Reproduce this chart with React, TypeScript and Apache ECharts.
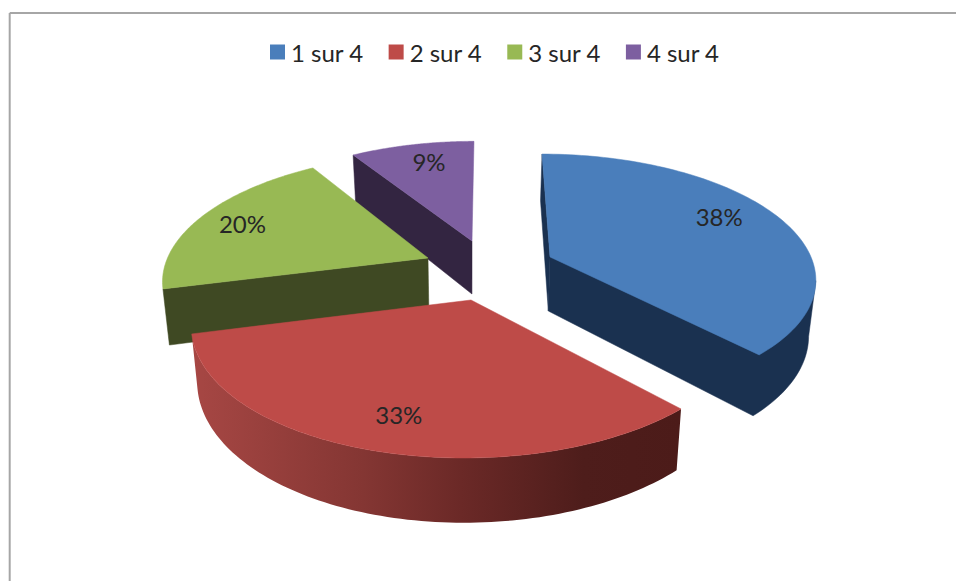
import React, { useEffect, useRef } from "react";
import * as echarts from "echarts";

const categories = ["1 sur 4", "2 sur 4", "3 sur 4", "4 sur 4"];
const values = [38, 33, 20, 9];
const labels = ["38%", "33%", "20%", "9%"];
const topColors = ["#4a7ebb", "#be4b48", "#98b954", "#7d5fa0"];
const wallColors = ["#1a3150", "#4c1b19", "#3f4923", "#332541"];

// Perspective fit of each exploded slice: apex, radii, skew, foreshortening, thickness
const geometry = [
  { ax: 550, ay: 257, rx: 261, ry: 119, sx: 9.2, k: 0.156, d: 54, labelR: 0.77, labelShift: -4.1, labelDy: -3 },
  { ax: 471, ay: 300, rx: 274.3, ry: 130.5, sx: -6, k: 0.174, d: 53.5, labelR: 0.8, labelShift: -0.9, labelDy: -2 },
  { ax: 428, ay: 258, rx: 260.5, ry: 120, sx: -12, k: 0.148, d: 54, labelR: 0.815, labelShift: 0, labelDy: 0 },
  { ax: 472, ay: 241, rx: 255.5, ry: 115.6, sx: -2.3, k: 0.16, d: 53, labelR: 0.78, labelShift: 1.7, labelDy: -2 },
];
const drawOrder = [3, 2, 0, 1];
const SHRINK_X = 0.979;
const CENTER_X = 470;
const FONT = "Lato, 'Noto Sans', sans-serif";
const TEXT = "#262626";

const total = values.reduce((a, b) => a + b, 0);

function sliceAngles(i: number) {
  let start = 0;
  for (let j = 0; j < i; j++) start += values[j];
  return [(start / total) * 360, ((start + values[i]) / total) * 360];
}

function top(i: number, deg: number, r = 1): [number, number] {
  const g = geometry[i];
  const t = (deg * Math.PI) / 180;
  const u = Math.sin(t) * r;
  const v = -Math.cos(t) * r;
  const w = 1 - g.k * v;
  return [g.ax + (g.rx * u + g.sx * v) / w, g.ay + (g.ry * v) / w];
}

function bottom(i: number, deg: number, r = 1): [number, number] {
  const g = geometry[i];
  const t = (deg * Math.PI) / 180;
  const v = -Math.cos(t) * r;
  const p = top(i, deg, r);
  return [CENTER_X + (p[0] - CENTER_X) * SHRINK_X, p[1] + g.d / (1 - g.k * v)];
}

function argMaxX(points: [number, number][]) {
  let best = 0;
  points.forEach((p, idx) => {
    if (p[0] > points[best][0]) best = idx;
  });
  return best;
}

// Screen-space winding of a polygon: positive when clockwise on screen
function winding(points: [number, number][]) {
  let area = 0;
  points.forEach((p, idx) => {
    const q = points[(idx + 1) % points.length];
    area += p[0] * q[1] - q[0] * p[1];
  });
  return area;
}

function renderSlice(params: any) {
  const i = params.seriesIndex;
  const [a0, a1] = sliceAngles(i);
  const n = 96;
  const arcTop: [number, number][] = [];
  const arcBottom: [number, number][] = [];
  for (let s = 0; s <= n; s++) {
    const a = a0 + ((a1 - a0) * s) / n;
    arcTop.push(top(i, a));
    arcBottom.push(bottom(i, a));
  }
  const apexT = top(i, 0, 0);
  const apexB = bottom(i, 0, 0);
  const wall = wallColors[i];
  const solid = (points: [number, number][], fill: string) => ({
    type: "polygon",
    shape: { points },
    style: { fill, stroke: fill, lineWidth: 0.5 },
    silent: true,
  });
  const children: any[] = [];
  const startWall: [number, number][] = [arcTop[0], apexT, apexB, arcBottom[0]];
  const endWall: [number, number][] = [arcTop[n], apexT, apexB, arcBottom[n]];
  if (winding(startWall) > 0) children.push(solid(startWall, wall));
  const iTop = argMaxX(arcTop);
  const iBottom = argMaxX(arcBottom);
  if (winding(endWall) < 0 && iTop < n) {
    // End wall and curved wall share a colour: one outline from apex round the right silhouette
    children.push(
      solid([apexT, apexB, ...arcBottom.slice(iBottom).reverse(), arcTop[iTop]], wall)
    );
  }
  if (i === 1) {
    children.push({
      type: "polygon",
      silent: true,
      shape: { points: [...arcTop, ...arcBottom.slice().reverse()] },
      style: {
        fill: new echarts.graphic.LinearGradient(0, 0, 1, 0, [
          { offset: 0, color: "#a74744" },
          { offset: 0.35, color: "#843633" },
          { offset: 0.55, color: "#6b2927" },
          { offset: 0.8, color: "#4e1d1b" },
          { offset: 1, color: "#4c1b19" },
        ]),
      },
    });
  }
  const g = geometry[i];
  const mid = (a0 + a1) / 2 + g.labelShift;
  const lp = top(i, mid, g.labelR);
  children.push(solid([apexT, ...arcTop], topColors[i]), {
    type: "text",
    x: lp[0],
    y: lp[1] + g.labelDy,
    silent: true,
    style: {
      text: labels[i],
      fill: TEXT,
      font: `24px ${FONT}`,
      align: "center",
      verticalAlign: "middle",
    },
  });
  return { type: "group", children };
}

export default function App() {
  const ref = useRef<HTMLDivElement>(null);
  useEffect(() => {
    const chart = echarts.init(ref.current!, undefined, { renderer: "svg" });
    chart.setOption({
      animation: false,
      backgroundColor: "#ffffff",
      color: topColors,
      legend: {
        data: categories,
        left: 270,
        top: 40,
        itemWidth: 15,
        itemHeight: 15,
        itemGap: 25,
        icon: "rect",
        selectedMode: false,
        padding: 0,
        textStyle: { fontFamily: FONT, fontSize: 24, color: TEXT, padding: [0, 0, 3, 1] },
      },
      graphic: [
        {
          type: "line",
          silent: true,
          shape: { x1: 9.7, y1: 13, x2: 956, y2: 13 },
          style: { stroke: "#a6a6a6", lineWidth: 2 },
        },
        {
          type: "line",
          silent: true,
          shape: { x1: 9.7, y1: 13, x2: 9.7, y2: 581 },
          style: { stroke: "#a6a6a6", lineWidth: 2 },
        },
      ],
      series: categories.map((name, i) => ({
        type: "custom",
        name,
        coordinateSystem: "none",
        data: [values[i]],
        itemStyle: { color: topColors[i] },
        z: 2 + drawOrder.indexOf(i),
        silent: true,
        renderItem: renderSlice,
      })),
    });
    return () => chart.dispose();
  }, []);
  return (
    <div
      ref={ref}
      style={{ position: "absolute", left: 0, top: 0, width: 956, height: 581, background: "#fff" }}
    />
  );
}
